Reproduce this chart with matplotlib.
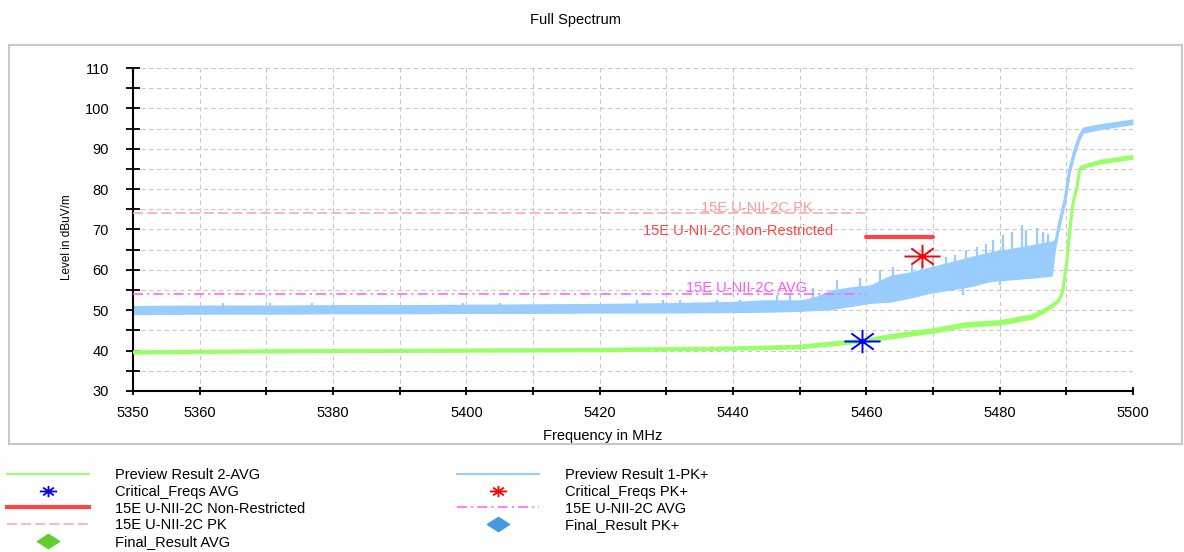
import numpy as np
import matplotlib
matplotlib.use("Agg")
import matplotlib.pyplot as plt
from matplotlib.lines import Line2D
from matplotlib.path import Path
from matplotlib.patches import Rectangle

plt.rcParams['font.family'] = ['Liberation Sans', 'DejaVu Sans']

# Preview Result 1-PK+ (envelope)
pk_freq = [5350, 5360, 5370, 5380, 5390, 5400, 5410, 5420, 5430, 5440, 5445, 5450,
           5452, 5454.6, 5457.6, 5460.6, 5463.6, 5466.6, 5469.6, 5472.6, 5475.6,
           5478.6, 5481.6, 5484.6, 5487.1, 5487.9, 5488.4, 5489, 5489.8, 5490.5,
           5491.3, 5492, 5492.5, 5495, 5500]
pk_low = [48.9, 49.0, 49.0, 49.1, 49.1, 49.2, 49.2, 49.3, 49.3, 49.4, 49.5, 49.7,
          49.9, 50.1, 50.9, 51.7, 52.0, 53.0, 54.2, 55.0, 55.8,
          57.1, 57.5, 57.9, 58.3, 58.5, 65.5, 70.5, 76.0, 83.5,
          88.5, 92.0, 93.8, 94.7, 96.0]
pk_high = [51.2, 51.3, 51.3, 51.4, 51.4, 51.5, 51.6, 51.7, 51.9, 52.2, 52.6, 52.6,
           53.2, 55.0, 55.8, 56.3, 58.7, 59.5, 60.8, 62.0, 63.3,
           64.5, 65.3, 66.2, 67.0, 67.2, 67.8, 73.0, 78.6, 86.0,
           91.0, 94.0, 95.4, 96.2, 97.4]
# single peaks sticking out of the PK+ band
spike_freq = [5363.5, 5370.5, 5376.8, 5399.5, 5405, 5425.6, 5429.5, 5432, 5437.6,
              5441, 5446.6, 5448.6, 5452, 5455.6, 5459, 5462, 5464, 5466.8, 5468.3,
              5470, 5472, 5473.3, 5475, 5476.6, 5478, 5479, 5480.5, 5481.8, 5483.3,
              5484, 5485.6, 5486.5, 5487.3]
spike_top = [51.9, 51.9, 51.9, 51.9, 51.9, 52.5, 52.5, 52.5, 52.5,
             52.5, 53.8, 54.2, 55.5, 57.5, 58.0, 60.0, 60.8, 61.2, 62.0,
             62.9, 63.3, 63.7, 64.9, 65.7, 66.5, 67.4, 68.6, 69.4, 71.1,
             69.9, 70.3, 69.4, 69.0]
spike_base = [50.1, 50.1, 50.2, 50.3, 50.4, 50.5, 50.6, 50.6, 50.7,
              50.8, 51.0, 51.1, 51.5, 52.7, 53.4, 54.2, 55.4, 56.3, 56.8,
              57.6, 58.3, 58.7, 59.4, 60.1, 60.6, 61.0, 61.2, 61.4, 61.8,
              61.9, 62.3, 62.5, 62.7]
# narrow drops below the PK+ band
dip_freq = [5474.5, 5480.0]
dip_bottom = [53.8, 56.3]
dip_top = [58.0, 60.0]

# Preview Result 2-AVG
av_freq = [5350, 5360, 5380, 5400, 5420, 5440, 5450, 5455, 5460, 5465, 5470, 5475,
           5480, 5485, 5487, 5488.3, 5489, 5489.5, 5490, 5490.5, 5491, 5491.6,
           5492, 5492.3, 5495, 5500]
av_low = [39.1, 39.3, 39.5, 39.6, 39.7, 40.1, 40.4, 41.2, 42.0, 43.2, 44.3, 45.8,
          46.3, 47.8, 49.7, 51.1, 52.3, 54.6, 60.6, 69.1, 76.1, 80.2, 84.2, 85.0,
          86.2, 87.4]
av_high = [40.2, 40.3, 40.5, 40.6, 40.8, 41.1, 41.6, 42.4, 43.2, 44.6, 45.7, 47.2,
           47.7, 49.2, 50.9, 52.3, 53.3, 55.4, 61.4, 69.9, 76.9, 81.0, 85.2, 86.0,
           87.4, 88.6]

# limit lines
pk_limit_freq = [5350, 5460]
pk_limit = [74, 74]
avg_limit_freq = [5350, 5460]
avg_limit = [54, 54]
nr_limit_freq = [5460, 5470]
nr_limit = [68.2, 68.2]

# critical frequencies
crit_pk_freq = [5468.4]
crit_pk_level = [63.4]
crit_av_freq = [5459.4]
crit_av_level = [42.5]

x_ticks = list(range(5350, 5501, 10))
x_labels = ['5350', '5360', '', '5380', '', '5400', '', '5420', '', '5440', '',
            '5460', '', '5480', '', '5500']

GREEN = '#99ff66'
BLUE = '#99ccff'
FS = 10.5

# asterisk shaped like the EMC software marker
star_verts = [(-1, 0), (1, 0), (0, -0.65), (0, 0.65),
              (-0.62, -0.45), (0.62, 0.45), (-0.62, 0.45), (0.62, -0.45)]
star_codes = [Path.MOVETO, Path.LINETO] * 4
star = Path(star_verts, star_codes)
diamond = Path([(-1, 0), (0, 0.64), (1, 0), (0, -0.64), (-1, 0)],
               [Path.MOVETO, Path.LINETO, Path.LINETO, Path.LINETO, Path.CLOSEPOLY])

fig = plt.figure(figsize=(11.84, 5.52), dpi=100)
fig.patches.append(Rectangle((9 / 1184, 1 - 444 / 552), 1173 / 1184, 399 / 552,
                             transform=fig.transFigure, fill=False,
                             edgecolor='#c8c8c8', linewidth=1.5))
fig.text(576 / 1184, 1 - 20 / 552, 'Full Spectrum', ha='center', va='center', fontsize=FS)

ax = fig.add_axes([133 / 1184, 161 / 552, 1000 / 1184, 323 / 552])

# traces
pk_mid = (np.array(pk_low) + np.array(pk_high)) / 2
av_mid = (np.array(av_low) + np.array(av_high)) / 2
ax.fill_between(pk_freq, pk_low, pk_high, color=BLUE, lw=0, zorder=2)
ax.plot(pk_freq, pk_mid, color=BLUE, lw=2.2, zorder=2)
ax.vlines(spike_freq, spike_base, spike_top, color=BLUE, lw=1.6, zorder=2)
ax.vlines(dip_freq, dip_bottom, dip_top, color=BLUE, lw=1.6, zorder=2)
ax.fill_between(av_freq, av_low, av_high, color=GREEN, lw=0, zorder=3)
ax.plot(av_freq, av_mid, color=GREEN, lw=2.2, zorder=3)

# limits
ax.plot(pk_limit_freq, pk_limit, color='#ffaaaa', lw=1.2, dashes=(6, 2.5), zorder=4)
ax.plot(avg_limit_freq, avg_limit, color='#ff66ff', lw=1.2,
        dashes=(6, 2.5, 1.2, 2.5), zorder=4)
ax.plot(nr_limit_freq, nr_limit, color='#ff4444', lw=3, solid_capstyle='round', zorder=4)
ax.text(5443.6, 75.3, '15E U-NII-2C PK', color='#ff9999', ha='center', va='center',
        fontsize=FS, zorder=5)
ax.text(5440.8, 69.6, '15E U-NII-2C Non-Restricted', color='#ff4444', ha='center',
        va='center', fontsize=FS, zorder=5)
ax.text(5442, 55.5, '15E U-NII-2C AVG', color='#ff55ff', ha='center', va='center',
        fontsize=FS, zorder=5)

# critical frequencies
ax.plot(crit_pk_freq, crit_pk_level, ls='none', marker=star, ms=26, mew=1.4,
        mec='#ff0000', mfc='none', zorder=6)
ax.plot(crit_av_freq, crit_av_level, ls='none', marker=star, ms=26, mew=1.4,
        mec='#0000ff', mfc='none', zorder=6)

ax.set_xlim(5350, 5500)
ax.set_ylim(30, 110)
ax.set_xticks(x_ticks)
ax.set_xticklabels(x_labels)
ax.set_yticks(range(30, 111, 10))
ax.set_yticks(range(35, 110, 10), minor=True)
ax.tick_params(axis='x', direction='inout', length=6, width=1.3, pad=8, labelsize=FS)
ax.tick_params(axis='y', which='both', direction='inout', length=10.5, width=1.3,
               pad=12, labelsize=FS)
ax.grid(True, which='both', color='#c8c8c8', lw=0.8, ls=(0, (4, 3)))
for s in ('top', 'right'):
    ax.spines[s].set_visible(False)
for s in ('left', 'bottom'):
    ax.spines[s].set_linewidth(1.5)
ax.set_xlabel('Frequency in MHz', fontsize=FS, va='center')
ax.xaxis.set_label_coords(0.47, -0.139)
ax.set_ylabel('Level in dBuV/m', fontsize=8.5, va='center', ha='center')
ax.yaxis.set_label_coords(-0.066, 0.477)

# legend
h_av = Line2D([], [], color=GREEN, lw=1.5)
h_crit_av = Line2D([], [], ls='none', marker=star, ms=12.5, mew=1.3, mec='#0000ff', mfc='none')
h_nr = Line2D([], [], color='#ff4444', lw=3)
h_pk_lim = Line2D([], [], color='#ffaaaa', lw=1.2, dashes=(6, 2.5))
h_fin_av = Line2D([], [], ls='none', marker=diamond, ms=16, color='#66cc33')
h_pk = Line2D([], [], color=BLUE, lw=1.5)
h_crit_pk = Line2D([], [], ls='none', marker=star, ms=12.5, mew=1.3, mec='#ff0000', mfc='none')
h_av_lim = Line2D([], [], color='#ff66ff', lw=1.2, dashes=(6, 2.5, 1.2, 2.5))
h_fin_pk = Line2D([], [], ls='none', marker=diamond, ms=16, color='#4499dd')

leg_kw = dict(loc='upper left', frameon=False, borderpad=0, borderaxespad=0,
              handlelength=5.6, handletextpad=1.78, labelspacing=0.19, fontsize=FS)
leg1 = fig.legend([h_av, h_crit_av, h_nr, h_pk_lim, h_fin_av],
                  ['Preview Result 2-AVG', 'Critical_Freqs AVG',
                   '15E U-NII-2C Non-Restricted', '15E U-NII-2C PK', 'Final_Result AVG'],
                  bbox_to_anchor=(7 / 1184, 1 - 468 / 552), **leg_kw)
leg2 = fig.legend([h_pk, h_crit_pk, h_av_lim, h_fin_pk],
                  ['Preview Result 1-PK+', 'Critical_Freqs PK+', '15E U-NII-2C AVG',
                   'Final_Result PK+'],
                  bbox_to_anchor=(457 / 1184, 1 - 468 / 552), **leg_kw)

fig.savefig('out.png', dpi=100)
